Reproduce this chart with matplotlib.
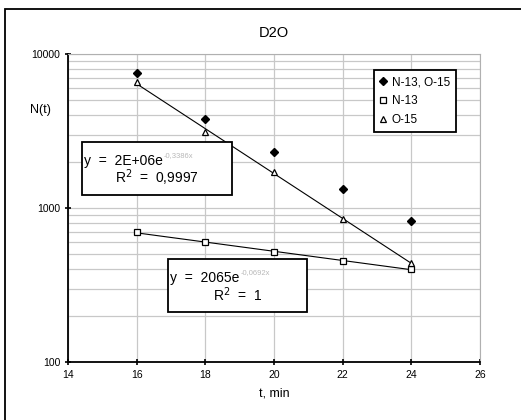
import matplotlib.pyplot as plt
import numpy as np
from matplotlib.patches import Rectangle

plt.rcParams['font.family'] = ['Liberation Sans', 'DejaVu Sans']

# data
t = [16, 18, 20, 22, 24]
n_total = [7540, 3785, 2311, 1329, 824]   # N-13, O-15
n_n13 = [695, 601, 517, 453, 402]          # N-13
n_o15 = [6580, 3115, 1714, 849, 440]       # O-15

labels = ['N-13, O-15', 'N-13', 'O-15']
xticks = [14, 16, 18, 20, 22, 24, 26]
yticks = [100, 1000, 10000]


def exp_fit(x, y):
    k, b = np.polyfit(x, np.log(y), 1)
    xx = np.linspace(x[0], x[-1], 60)
    return xx, np.exp(b + k * xx)


fig = plt.figure(figsize=(5.21, 4.20), dpi=100)
ax = fig.add_axes([68/521, 1 - 362/420, 412/521, 308/420])

# outer chart frame (only top/left inside the picture)
fig.patches.append(Rectangle((5/521, -0.1), 1.2, 1 - 9/420 + 0.1,
                             transform=fig.transFigure, fill=False,
                             edgecolor='black', lw=1.3))

ax.set_yscale('log')
ax.set_xlim(14, 26)
ax.set_ylim(100, 10000)

ax.grid(True, which='both', color='#c8c8c8', lw=0.9)
ax.set_axisbelow(True)
for s in ['top', 'right']:
    ax.spines[s].set_color('#b0b0b0')
for s in ['left', 'bottom']:
    ax.spines[s].set_linewidth(1.3)

ax.set_xticks(xticks)
ax.set_xticklabels([str(v) for v in xticks], fontsize=7.5)
ax.set_yticks(yticks)
ax.set_yticklabels([str(v) for v in yticks], fontsize=7.5)
ax.yaxis.set_minor_formatter(plt.NullFormatter())
ax.tick_params(axis='y', which='minor', length=0)
ax.tick_params(axis='both', which='major', length=4, width=1.2, direction='inout')

# trend lines
xx, yy = exp_fit(t, n_o15)
ax.plot(xx, yy, color='black', lw=0.8)
xx, yy = exp_fit(t, n_n13)
ax.plot(xx, yy, color='black', lw=0.8)

ax.plot(t, n_total, 'D', color='black', ms=4.2, ls='none', label=labels[0])
ax.plot(t, n_n13, 's', mfc='white', mec='black', ms=3.8, mew=0.9, ls='none', label=labels[1])
ax.plot(t, n_o15, '^', mfc='white', mec='black', ms=4.8, mew=0.9, ls='none', label=labels[2])

leg = ax.legend(loc='upper left', bbox_to_anchor=(0.728, 0.966), fontsize=8.5,
                fancybox=False, framealpha=1, edgecolor='black',
                handlelength=0.6, handletextpad=0.4, borderpad=0.5,
                labelspacing=0.6)
leg.get_frame().set_linewidth(1.3)

# equation boxes
def eq_box(x0, y0, x1, y1, main, expo, r2):
    ax.add_patch(Rectangle((x0, y0), x1 - x0, y1 - y0, transform=ax.transAxes,
                           facecolor='white', edgecolor='black', lw=1.3, zorder=5))
    m = ax.text(x0 + 0.004, y1 - 0.06, main, transform=ax.transAxes, fontsize=10,
                va='center', ha='left', zorder=6)
    ax.annotate(expo, xy=(1.0, 0.85), xycoords=m, xytext=(1, 0),
                textcoords='offset points', fontsize=5.5, color='#b8b8b8',
                va='center', ha='left', zorder=6)
    ax.text((x0 + x1) / 2, y0 + 0.055, r2, transform=ax.transAxes, fontsize=10,
            va='center', ha='center', zorder=6)

eq_box(0.034, 0.542, 0.398, 0.714, 'y  =  2E+06e', '-0,3386x', 'R$^2$  =  0,9997')
eq_box(0.243, 0.162, 0.580, 0.334, 'y  =  2065e', '-0,0692x', 'R$^2$  =  1')

ax.text(0.5, 1.068, 'D2O', transform=ax.transAxes, ha='center', va='center', fontsize=10.5)
ax.set_xlabel('t, min', fontsize=9, labelpad=6)
ax.set_ylabel('N(t)', fontsize=9, rotation=0)
ax.yaxis.set_label_coords(-0.068, 0.80)

fig.savefig('out.png', dpi=100)
